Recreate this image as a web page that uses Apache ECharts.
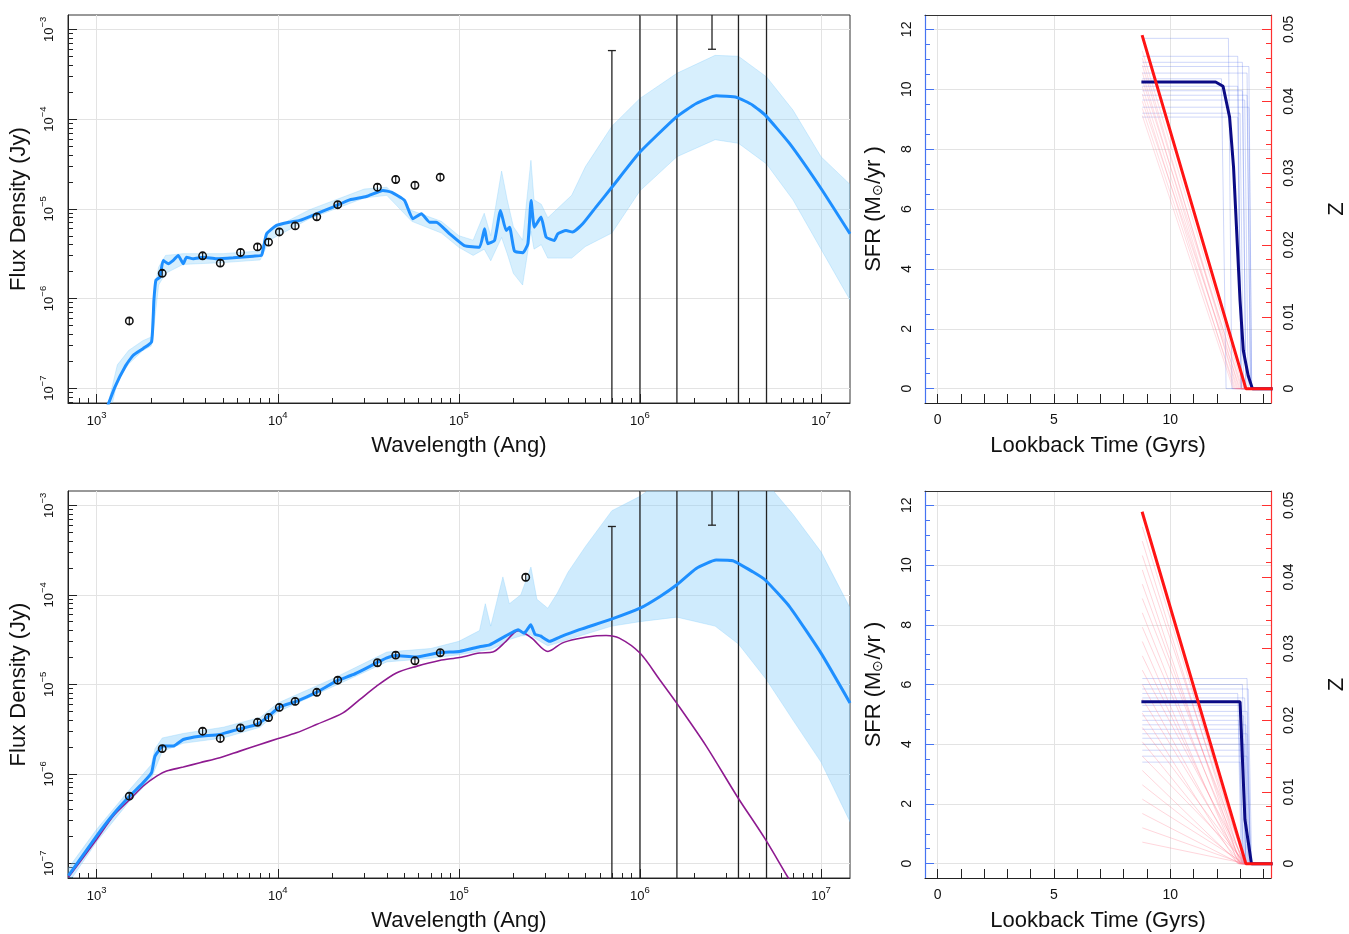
<!DOCTYPE html>
<html><head><meta charset="utf-8">
<script src="https://cdn.jsdelivr.net/npm/echarts@6/dist/echarts.min.js"></script>
<style>html,body{margin:0;padding:0;background:#fff}#c{width:1349px;height:934px}</style>
</head><body><div id="c"></div><script>
// ---------------- DATA ----------------
// SED panels (log10 wavelength in Angstrom, log10 flux in Jy)
const xTickExps = [3, 4, 5, 6, 7];
const yTickExps = [-7, -6, -5, -4, -3];

const obsLam  = [1514, 2301, 3845, 4812, 6226, 7727, 8890, 10200, 12470, 16420, 21430, 35500, 44800, 57200, 78900];
const obsFlux = [5.62e-7, 1.91e-6, 2.99e-6, 2.48e-6, 3.26e-6, 3.76e-6, 4.25e-6, 5.52e-6, 6.44e-6, 8.13e-6, 1.11e-5, 1.74e-5, 2.12e-5, 1.83e-5, 2.25e-5];
const obsErr  = [4.5e-8, 1.5e-7, 2.4e-7, 2.0e-7, 2.6e-7, 3.0e-7, 3.4e-7, 4.4e-7, 5.2e-7, 6.5e-7, 8.9e-7, 1.4e-6, 1.7e-6, 1.5e-6, 1.8e-6];
const mipsLam = [234000];
const mipsFlux = [1.57e-4];
const mipsErr = [1.3e-5];

// far-IR error bars (ends beyond the plot are given as far-off values)
const firLam    = [7.0e5, 1.0e6, 1.6e6, 2.5e6, 3.5e6, 5.0e6];
const firErrLow = [1e-9, 1e-9, 1e-9, 6.0e-4, 1e-9, 1e-9];
const firErrHigh= [5.8e-4, 1e-2, 1e-2, 1e-2, 1e-2, 1e-2];

const topModelLogLam = [3.060,3.101,3.156,3.202,3.257,3.303,3.316,3.327,3.349,3.367,3.395,3.423,3.450,3.478,3.496,3.533,3.588,3.662,3.754,3.864,3.910,3.938,3.993,4.066,4.121,4.213,4.305,4.397,4.489,4.581,4.627,4.700,4.746,4.793,4.838,4.875,4.949,5.030,5.114,5.142,5.160,5.197,5.230,5.261,5.280,5.307,5.353,5.381,5.399,5.417,5.454,5.482,5.527,5.546,5.592,5.628,5.684,5.757,5.846,6.000,6.202,6.311,6.421,6.535,6.623,6.692,6.826,7.000,7.160];
const topModelLogFlux = [-7.20,-6.985,-6.763,-6.632,-6.557,-6.483,-6.019,-5.796,-5.762,-5.576,-5.613,-5.576,-5.520,-5.613,-5.540,-5.558,-5.540,-5.558,-5.547,-5.528,-5.520,-5.279,-5.186,-5.149,-5.130,-5.056,-4.981,-4.900,-4.863,-4.796,-4.815,-4.908,-5.112,-5.056,-5.149,-5.149,-5.279,-5.410,-5.428,-5.223,-5.390,-5.353,-5.018,-5.242,-5.205,-5.472,-5.491,-5.390,-4.908,-5.205,-5.093,-5.316,-5.353,-5.279,-5.242,-5.260,-5.167,-4.981,-4.758,-4.368,-3.975,-3.826,-3.741,-3.759,-3.845,-3.956,-4.272,-4.774,-5.279];

const topBandLogLam  = [3.072,3.114,3.176,3.255,3.301,3.314,3.342,3.380,3.477,3.699,3.903,3.954,4.176,4.477,4.602,4.740,4.903,5.000,5.079,5.140,5.176,5.236,5.267,5.301,5.352,5.398,5.415,5.455,5.491,5.544,5.623,5.699,5.845,6.000,6.204,6.415,6.544,6.699,6.845,7.000,7.161];
const topBandLogLow  = [-7.30,-6.92,-6.73,-6.58,-6.53,-6.35,-5.85,-5.72,-5.62,-5.60,-5.57,-5.35,-5.11,-4.88,-4.85,-5.14,-5.27,-5.43,-5.52,-5.45,-5.58,-5.32,-5.50,-5.72,-5.85,-5.25,-5.45,-5.40,-5.55,-5.55,-5.55,-5.42,-5.27,-4.80,-4.42,-4.23,-4.27,-4.50,-4.90,-5.45,-6.02];
const topBandLogHigh = [-7.10,-6.74,-6.58,-6.47,-6.43,-5.95,-5.65,-5.52,-5.50,-5.50,-5.47,-5.24,-5.01,-4.78,-4.76,-5.02,-5.14,-5.30,-5.35,-5.05,-5.30,-4.58,-4.90,-5.20,-5.35,-4.46,-4.90,-4.95,-5.10,-5.00,-4.85,-4.53,-4.08,-3.77,-3.49,-3.29,-3.30,-3.53,-3.90,-4.42,-4.73];

const botModelLogLam = [2.844,3.000,3.092,3.180,3.257,3.303,3.322,3.367,3.423,3.478,3.570,3.680,3.790,3.882,3.938,4.011,4.103,4.213,4.331,4.415,4.550,4.599,4.651,4.757,4.897,5.004,5.114,5.170,5.250,5.327,5.360,5.397,5.420,5.450,5.502,5.560,5.666,5.846,6.000,6.109,6.202,6.311,6.421,6.513,6.623,6.692,6.826,7.000,7.160];
const botModelLogFlux = [-7.139,-6.694,-6.452,-6.255,-6.099,-5.988,-5.803,-5.691,-5.691,-5.617,-5.580,-5.561,-5.498,-5.450,-5.376,-5.253,-5.190,-5.090,-4.957,-4.893,-4.756,-4.707,-4.678,-4.696,-4.645,-4.633,-4.580,-4.560,-4.470,-4.390,-4.430,-4.336,-4.440,-4.460,-4.520,-4.470,-4.390,-4.270,-4.150,-4.021,-3.891,-3.705,-3.612,-3.620,-3.743,-3.835,-4.132,-4.652,-5.208];

const stellarLogLam = [2.844,3.000,3.092,3.184,3.257,3.331,3.386,3.478,3.570,3.680,3.790,3.901,3.998,4.103,4.213,4.360,4.452,4.544,4.655,4.765,4.893,5.004,5.114,5.187,5.260,5.327,5.400,5.492,5.570,5.649,5.750,5.813,5.886,6.000,6.109,6.202,6.366,6.535,6.692,6.817,6.850];
const stellarLogFlux = [-7.157,-6.731,-6.471,-6.285,-6.137,-6.026,-5.970,-5.925,-5.876,-5.821,-5.747,-5.673,-5.609,-5.543,-5.450,-5.320,-5.172,-5.023,-4.874,-4.800,-4.734,-4.700,-4.651,-4.640,-4.520,-4.400,-4.480,-4.633,-4.540,-4.495,-4.460,-4.455,-4.484,-4.651,-4.949,-5.208,-5.691,-6.248,-6.731,-7.157,-7.260];

const botBandLogLam  = [2.845,3.000,3.176,3.301,3.322,3.362,3.477,3.699,3.903,4.000,4.301,4.602,4.845,5.000,5.114,5.146,5.176,5.243,5.279,5.342,5.398,5.431,5.491,5.544,5.602,5.699,5.845,6.000,6.204,6.415,6.544,6.699,6.845,7.000,7.161];
const botBandLogLow  = [-7.22,-6.76,-6.32,-6.06,-5.95,-5.75,-5.66,-5.60,-5.48,-5.31,-5.03,-4.75,-4.71,-4.67,-4.63,-4.62,-4.61,-4.55,-4.50,-4.46,-4.45,-4.50,-4.57,-4.54,-4.50,-4.44,-4.35,-4.30,-4.25,-4.35,-4.55,-4.95,-5.40,-5.87,-6.54];
const botBandLogHigh = [-7.05,-6.62,-6.19,-5.90,-5.72,-5.60,-5.55,-5.48,-5.37,-5.21,-4.94,-4.64,-4.60,-4.52,-4.40,-4.10,-4.35,-3.80,-4.10,-4.00,-3.69,-4.05,-4.15,-3.98,-3.75,-3.46,-3.06,-2.90,-2.60,-2.50,-2.55,-2.75,-3.10,-3.52,-4.15];

// SFH panels
const sfrMajor = [0, 2, 4, 6, 8, 10, 12];
const zMajor = [0, 0.01, 0.02, 0.03, 0.04, 0.05];
const tMajor = [0, 5, 10];

const sfrTopTime  = [8.76, 11.95, 12.27, 12.55, 12.72, 12.86, 13.00, 13.14, 13.35, 13.53, 14.40];
const sfrTopValue = [10.24, 10.24, 10.10, 9.07, 7.40, 5.17, 2.94, 1.27, 0.43, 0.0, 0.0];
const zTopTime  = [8.79, 13.25, 14.40];
const zTopValue = [0.0492, 0.0, 0.0];
const topSampleLevel = [11.7, 11.1, 10.9, 10.76, 10.54, 10.35, 10.1, 9.95, 9.8, 9.64, 9.4, 9.2, 9.07];
const topSampleEnd   = [12.5, 12.9, 13.1, 13.38, 13.3, 12.2, 12.9, 13.1, 13.3, 13.2, 13.38, 13.0, 12.9];
const topSampleZero  = [12.65, 13.05, 13.25, 13.5, 13.45, 12.4, 13.05, 13.25, 13.45, 13.35, 13.5, 13.15, 13.05];
const topZStart = [0.047, 0.046, 0.045, 0.044, 0.043, 0.042, 0.041, 0.040, 0.039, 0.038];
const topZEnd   = [13.15, 12.95, 13.05, 12.85, 13.1, 12.9, 12.75, 13.0, 12.8, 12.7];

const sfrBotTime  = [8.76, 13.00, 13.21, 13.49, 14.40];
const sfrBotValue = [5.42, 5.42, 1.48, 0.0, 0.0];
const zBotTime  = [8.79, 13.25, 14.40];
const zBotValue = [0.0491, 0.0, 0.0];
const botSampleLevel = [6.2, 6.0, 5.85, 5.7, 5.55, 5.3, 5.1, 4.95, 4.8, 4.65, 4.5, 4.35, 4.2, 4.0, 3.8, 3.6, 3.4];
const botSampleEnd   = [13.3, 13.1, 13.35, 12.9, 13.2, 13.05, 13.3, 13.15, 12.95, 13.25, 13.1, 13.3, 13.0, 13.2, 13.1, 13.3, 13.0];
const botSampleZero  = [13.45, 13.25, 13.5, 13.05, 13.35, 13.2, 13.45, 13.3, 13.1, 13.4, 13.25, 13.45, 13.15, 13.35, 13.25, 13.45, 13.15];
const botZStart = [0.047, 0.045, 0.043, 0.041, 0.039, 0.037, 0.035, 0.033, 0.031, 0.029, 0.027, 0.025, 0.023, 0.021, 0.019, 0.017, 0.015, 0.013, 0.011, 0.009, 0.007, 0.005, 0.003];
const botZEnd   = [13.2, 13.1, 13.25, 13.0, 13.15, 13.3, 13.05, 13.2, 12.95, 13.1, 13.25, 13.0, 13.15, 12.9, 13.2, 13.05, 13.3, 12.95, 13.1, 13.2, 13.0, 13.15, 13.25];

// ---------------- LAYOUT / STYLE ----------------
const FONT = '"Liberation Sans", Arial, Helvetica, sans-serif';
const TXT = '#111';
const GRID_C = '#e3e3e3';
const BLUE_AX = '#4674F2';
const RED_AX = '#FF3030';
const SED_XMIN = 2.8415, SED_XMAX = 7.16, SED_YMIN = -7.165, SED_YMAX = -2.84;
const T_MIN = -0.54, T_MAX = 14.33, SFR_MIN = -0.48, SFR_MAX = 12.48, Z_PER_SFR = 0.05 / 12;
const L = Math.log10;

function logMinor(lo, hi) {
  const out = [];
  for (let e = Math.floor(lo); e <= Math.ceil(hi); e++)
    for (let k = 2; k <= 9; k++) { const v = e + Math.log10(k); if (v >= lo && v <= hi) out.push(v); }
  return out;
}
function steps(lo, hi, st) { const out = []; for (let i = 0; lo + i * st <= hi + 1e-9; i++) out.push(+(lo + i * st).toFixed(6)); return out; }

const supFmt = v => '{b|10}{s|' + String(Math.round(v)).replace('-', '\u2212') + '}';
const supRich = {
  b: { fontSize: 13, fontFamily: FONT, color: TXT, lineHeight: 18, verticalAlign: 'bottom' },
  s: { fontSize: 9.5, fontFamily: FONT, color: TXT, lineHeight: 9, verticalAlign: 'top' }
};
const titleStyle = { fontSize: 22, fontFamily: FONT, color: TXT };

const grids = [
  { left: 68, top: 15, width: 782, height: 388, show: true, borderColor: '#333', borderWidth: 1 },
  { left: 68, top: 491, width: 782, height: 387, show: true, borderColor: '#333', borderWidth: 1 },
  { left: 925, top: 15, width: 353, height: 388 },
  { left: 925, top: 491, width: 353, height: 387 }
];

const xAxes = [], yAxes = [];
function addSedAxes(gi) {
  xAxes.push({ type: 'value', gridIndex: gi, position: 'bottom', min: SED_XMIN, max: SED_XMAX,
    name: 'Wavelength (Ang)', nameLocation: 'middle', nameGap: 32, nameTextStyle: titleStyle,
    axisLine: { show: true, onZero: false, lineStyle: { color: '#222', width: 1 } },
    axisTick: { show: true, inside: true, length: 9, customValues: xTickExps, lineStyle: { color: '#222' } },
    axisLabel: { show: true, customValues: xTickExps, formatter: supFmt, rich: supRich, margin: 7 },
    splitLine: { show: true, lineStyle: { color: GRID_C, width: 1 } } });
  xAxes.push({ type: 'value', gridIndex: gi, position: 'bottom', min: SED_XMIN, max: SED_XMAX,
    axisLine: { show: false, onZero: false },
    axisTick: { show: true, inside: true, length: 5, customValues: logMinor(SED_XMIN, SED_XMAX), lineStyle: { color: '#222' } },
    axisLabel: { show: false }, splitLine: { show: false } });
  yAxes.push({ type: 'value', gridIndex: gi, position: 'left', min: SED_YMIN, max: SED_YMAX,
    name: 'Flux Density (Jy)', nameLocation: 'middle', nameRotate: 90, nameGap: 36, nameTextStyle: titleStyle,
    axisLine: { show: true, onZero: false, lineStyle: { color: '#222', width: 1 } },
    axisTick: { show: true, inside: true, length: 9, customValues: yTickExps, lineStyle: { color: '#222' } },
    axisLabel: { show: true, customValues: yTickExps, formatter: supFmt, rich: supRich, rotate: 90, margin: 12 },
    splitLine: { show: true, lineStyle: { color: GRID_C, width: 1 } } });
  yAxes.push({ type: 'value', gridIndex: gi, position: 'left', min: SED_YMIN, max: SED_YMAX,
    axisLine: { show: false, onZero: false },
    axisTick: { show: true, inside: true, length: 5, customValues: logMinor(SED_YMIN, SED_YMAX), lineStyle: { color: '#222' } },
    axisLabel: { show: false }, splitLine: { show: false } });
}
function addSfhAxes(gi) {
  xAxes.push({ type: 'value', gridIndex: gi, position: 'bottom', min: T_MIN, max: T_MAX,
    name: 'Lookback Time (Gyrs)', nameLocation: 'middle', nameGap: 32, nameTextStyle: titleStyle,
    axisLine: { show: true, onZero: false, lineStyle: { color: '#222' } },
    axisTick: { show: true, inside: true, length: 9, customValues: tMajor, lineStyle: { color: '#222' } },
    axisLabel: { customValues: tMajor, fontSize: 14, fontFamily: FONT, color: TXT, margin: 10 },
    splitLine: { show: true, lineStyle: { color: GRID_C } } });
  xAxes.push({ type: 'value', gridIndex: gi, position: 'bottom', min: T_MIN, max: T_MAX,
    axisLine: { show: false, onZero: false },
    axisTick: { show: true, inside: true, length: 9, customValues: steps(0, 14, 1), lineStyle: { color: '#222' } },
    axisLabel: { show: false }, splitLine: { show: false } });
  xAxes.push({ type: 'value', gridIndex: gi, position: 'top', min: T_MIN, max: T_MAX,
    axisLine: { show: true, onZero: false, lineStyle: { color: '#333' } },
    axisTick: { show: false }, axisLabel: { show: false }, splitLine: { show: false } });
  yAxes.push({ type: 'value', gridIndex: gi, position: 'left', min: SFR_MIN, max: SFR_MAX,
    name: '{n|SFR (M}{s|\u2299}{n|/yr )}', nameLocation: 'middle', nameRotate: 90, nameGap: 40,
    nameTextStyle: { fontSize: 22, fontFamily: FONT, color: TXT, rich: {
      n: { fontSize: 22, fontFamily: FONT, color: TXT, lineHeight: 26, verticalAlign: 'bottom' },
      s: { fontSize: 14, fontFamily: FONT, color: TXT, lineHeight: 16, verticalAlign: 'bottom' } } },
    axisLine: { show: true, onZero: false, lineStyle: { color: BLUE_AX, width: 1.2 } },
    axisTick: { show: true, inside: true, length: 9, customValues: sfrMajor, lineStyle: { color: BLUE_AX } },
    axisLabel: { customValues: sfrMajor, rotate: 90, fontSize: 14, fontFamily: FONT, color: TXT, margin: 11 },
    splitLine: { show: true, lineStyle: { color: GRID_C } } });
  yAxes.push({ type: 'value', gridIndex: gi, position: 'left', min: SFR_MIN, max: SFR_MAX,
    axisLine: { show: false, onZero: false },
    axisTick: { show: true, inside: true, length: 5, customValues: steps(0, 12, 0.5), lineStyle: { color: BLUE_AX } },
    axisLabel: { show: false }, splitLine: { show: false } });
  yAxes.push({ type: 'value', gridIndex: gi, position: 'right', min: SFR_MIN * Z_PER_SFR, max: SFR_MAX * Z_PER_SFR,
    name: 'Z', nameLocation: 'middle', nameRotate: 90, nameGap: 55, nameTextStyle: titleStyle,
    axisLine: { show: true, onZero: false, lineStyle: { color: RED_AX, width: 1.2 } },
    axisTick: { show: true, inside: true, length: 9, customValues: zMajor, lineStyle: { color: RED_AX } },
    axisLabel: { customValues: zMajor, rotate: 90, fontSize: 14, fontFamily: FONT, color: TXT, margin: 11,
      formatter: v => (v === 0 ? '0' : v.toFixed(2)) },
    splitLine: { show: false } });
  yAxes.push({ type: 'value', gridIndex: gi, position: 'right', min: SFR_MIN * Z_PER_SFR, max: SFR_MAX * Z_PER_SFR,
    axisLine: { show: false, onZero: false },
    axisTick: { show: true, inside: true, length: 5, customValues: steps(0, 0.05, 0.002), lineStyle: { color: RED_AX } },
    axisLabel: { show: false }, splitLine: { show: false } });
}
addSedAxes(0); addSedAxes(1); addSfhAxes(2); addSfhAxes(3);
// x indices: 0,1 (g0) 2,3 (g1) 4,5,6 (g2) 7,8,9 (g3)
// y indices: 0,1 (g0) 2,3 (g1) 4,5,6,7 (g2) 8,9,10,11 (g3)

const series = [];
function bandSeries(xi, yi, lam, lo, hi, fill) {
  series.push({ type: 'custom', xAxisIndex: xi, yAxisIndex: yi, clip: true, silent: true, z: 1,
    data: lam.map((x, i) => [x, lo[i], hi[i]]),
    renderItem: (params, api) => {
      if (params.dataIndex !== 0) return null;
      const pts = [];
      for (let i = 0; i < lam.length; i++) pts.push(api.coord([lam[i], hi[i]]));
      for (let i = lam.length - 1; i >= 0; i--) pts.push(api.coord([lam[i], lo[i]]));
      return { type: 'polygon', shape: { points: pts }, style: { fill: fill, stroke: 'rgba(120,200,250,0.5)', lineWidth: 0.6 } };
    } });
}
function firSeries(xi, yi) {
  series.push({ type: 'custom', xAxisIndex: xi, yAxisIndex: yi, clip: true, silent: true, z: 3,
    data: firLam.map((l, i) => [L(l), L(firErrLow[i]), L(firErrHigh[i])]),
    renderItem: (params, api) => {
      const cs = params.coordSys; const top = cs.y, bot = cs.y + cs.height;
      const a = api.coord([api.value(0), api.value(1)]); const b = api.coord([api.value(0), api.value(2)]);
      const x = a[0]; const ch = [];
      const y1 = Math.max(top, Math.min(bot, b[1])), y2 = Math.max(top, Math.min(bot, a[1]));
      ch.push({ type: 'line', shape: { x1: x, y1: y1, x2: x, y2: y2 }, style: { stroke: '#222', lineWidth: 1.3 } });
      [a[1], b[1]].forEach(y => { if (y > top && y < bot) ch.push({ type: 'line', shape: { x1: x - 4, y1: y, x2: x + 4, y2: y }, style: { stroke: '#222', lineWidth: 1.3 } }); });
      return { type: 'group', children: ch };
    } });
}
function obsSeries(xi, yi, lam, flux, err) {
  series.push({ type: 'custom', xAxisIndex: xi, yAxisIndex: yi, clip: true, silent: true, z: 6,
    data: lam.map((l, i) => [L(l), L(flux[i]), L(flux[i] - err[i]), L(flux[i] + err[i])]),
    renderItem: (params, api) => {
      const c = api.coord([api.value(0), api.value(1)]);
      const lo = api.coord([api.value(0), api.value(2)]), hi = api.coord([api.value(0), api.value(3)]);
      const x = c[0], st = { stroke: '#111', lineWidth: 1.1 };
      return { type: 'group', children: [
        { type: 'circle', shape: { cx: x, cy: c[1], r: 3.7 }, style: { fill: 'rgba(255,255,255,0)', stroke: '#111', lineWidth: 1.5 } },
        { type: 'line', shape: { x1: x, y1: lo[1], x2: x, y2: hi[1] }, style: st },
        { type: 'line', shape: { x1: x - 2, y1: lo[1], x2: x + 2, y2: lo[1] }, style: st },
        { type: 'line', shape: { x1: x - 2, y1: hi[1], x2: x + 2, y2: hi[1] }, style: st } ] };
    } });
}
function lineSeries(xi, yi, xs, ys, color, width, z, smooth) {
  series.push({ type: 'line', xAxisIndex: xi, yAxisIndex: yi, silent: true, z: z, symbol: 'none', smooth: smooth || false,
    lineStyle: { color: color, width: width }, data: xs.map((x, i) => [x, ys[i]]) });
}

// --- top SED
bandSeries(0, 0, topBandLogLam, topBandLogLow, topBandLogHigh, 'rgba(135,206,250,0.33)');
firSeries(0, 0);
lineSeries(0, 0, topModelLogLam, topModelLogFlux, '#1E8FFF', 3, 4, 0.15);
obsSeries(0, 0, obsLam, obsFlux, obsErr);
// --- bottom SED
bandSeries(2, 2, botBandLogLam, botBandLogLow, botBandLogHigh, 'rgba(135,206,250,0.4)');
firSeries(2, 2);
lineSeries(2, 2, stellarLogLam, stellarLogFlux, '#8E1A90', 1.6, 4, 0.3);
lineSeries(2, 2, botModelLogLam, botModelLogFlux, '#1E8FFF', 3, 5, 0.15);
obsSeries(2, 2, obsLam, obsFlux, obsErr);
obsSeries(2, 2, mipsLam, mipsFlux, mipsErr);

// --- SFH panels
function sfhPanel(xi, ySfr, yZ, lev, end, zero, zs, ze, sfrT, sfrV, zT, zV, pinkAlpha) {
  lev.forEach((v, i) => lineSeries(xi, ySfr, [8.8, end[i], zero[i], 14.4], [v, v, 0, 0], 'rgba(70,100,230,0.26)', 1, 2));
  zs.forEach((v, i) => lineSeries(xi, yZ, [8.8, ze[i], 14.4], [v, 0, 0], 'rgba(255,120,140,' + pinkAlpha + ')', 1, 2));
  lineSeries(xi, ySfr, sfrT, sfrV, '#0B0B85', 3, 5);
  lineSeries(xi, yZ, zT, zV, '#FF1414', 3, 6);
}
sfhPanel(4, 4, 6, topSampleLevel, topSampleEnd, topSampleZero, topZStart, topZEnd, sfrTopTime, sfrTopValue, zTopTime, zTopValue, 0.25);
sfhPanel(7, 8, 10, botSampleLevel, botSampleEnd, botSampleZero, botZStart, botZEnd, sfrBotTime, sfrBotValue, zBotTime, zBotValue, 0.3);

const chart = echarts.init(document.getElementById('c'), null, { renderer: 'canvas' });
chart.setOption({ animation: false, backgroundColor: '#fff', grid: grids, xAxis: xAxes, yAxis: yAxes, series: series });
</script></body></html>
